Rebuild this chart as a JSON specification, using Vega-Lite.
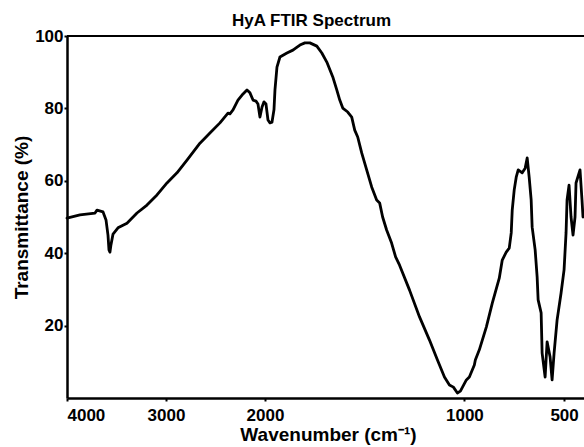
{
  "$schema": "https://vega.github.io/schema/vega-lite/v6.json",
  "width": 517,
  "height": 362,
  "autosize": {"type": "none"},
  "padding": {"left": 67, "top": 36, "right": 0, "bottom": 49},
  "background": "white",
  "title": {"text": "HyA FTIR Spectrum", "fontSize": 17, "fontWeight": "bold", "font": "Liberation Sans", "color": "black", "anchor": "middle", "dx": -14, "offset": -3},
  "config": {
    "view": {"stroke": null},
    "axis": {"grid": false, "domainColor": "black", "domainWidth": 2.5, "tickColor": "black", "tickWidth": 2, "tickSize": 3, "labelFont": "Liberation Sans", "labelFontSize": 17, "labelFontWeight": "bold", "labelColor": "black", "titleFont": "Liberation Sans", "titleFontSize": 19, "titleFontWeight": "bold", "titleColor": "black"}
  },
  "data": {"values": [
    {"wn": 4000, "T": 49.7}, {"wn": 3869, "T": 50.6}, {"wn": 3717, "T": 51.1}, {"wn": 3697, "T": 51.9}, {"wn": 3636, "T": 51.4},
    {"wn": 3606, "T": 49.2}, {"wn": 3586, "T": 45.0}, {"wn": 3576, "T": 40.9}, {"wn": 3566, "T": 40.3}, {"wn": 3556, "T": 42.3},
    {"wn": 3535, "T": 45.3}, {"wn": 3485, "T": 47.0}, {"wn": 3394, "T": 48.3}, {"wn": 3293, "T": 51.1}, {"wn": 3192, "T": 53.3},
    {"wn": 3091, "T": 56.1}, {"wn": 2990, "T": 59.4}, {"wn": 2889, "T": 62.2}, {"wn": 2788, "T": 65.7}, {"wn": 2657, "T": 70.4},
    {"wn": 2556, "T": 73.2}, {"wn": 2455, "T": 76.0}, {"wn": 2374, "T": 78.7}, {"wn": 2354, "T": 78.5}, {"wn": 2323, "T": 79.6},
    {"wn": 2273, "T": 82.3}, {"wn": 2232, "T": 83.7}, {"wn": 2182, "T": 85.1}, {"wn": 2152, "T": 84.3}, {"wn": 2121, "T": 82.3},
    {"wn": 2091, "T": 82.0}, {"wn": 2071, "T": 81.2}, {"wn": 2051, "T": 77.6}, {"wn": 2030, "T": 80.4}, {"wn": 2010, "T": 81.8},
    {"wn": 1995, "T": 81.2}, {"wn": 1985, "T": 76.8}, {"wn": 1975, "T": 76.0}, {"wn": 1965, "T": 76.2}, {"wn": 1955, "T": 79.6},
    {"wn": 1950, "T": 85.1}, {"wn": 1940, "T": 91.4}, {"wn": 1925, "T": 94.2}, {"wn": 1890, "T": 95.3}, {"wn": 1860, "T": 96.1},
    {"wn": 1825, "T": 97.5}, {"wn": 1800, "T": 98.1}, {"wn": 1775, "T": 98.1}, {"wn": 1740, "T": 97.2}, {"wn": 1715, "T": 95.3},
    {"wn": 1690, "T": 92.8}, {"wn": 1660, "T": 88.7}, {"wn": 1640, "T": 85.1}, {"wn": 1625, "T": 82.3}, {"wn": 1610, "T": 80.1},
    {"wn": 1585, "T": 79.0}, {"wn": 1565, "T": 77.6}, {"wn": 1550, "T": 74.0}, {"wn": 1535, "T": 72.1}, {"wn": 1515, "T": 67.7},
    {"wn": 1490, "T": 63.0}, {"wn": 1465, "T": 58.3}, {"wn": 1440, "T": 54.7}, {"wn": 1425, "T": 53.9}, {"wn": 1410, "T": 50.0},
    {"wn": 1390, "T": 46.4}, {"wn": 1365, "T": 42.8}, {"wn": 1345, "T": 39.0}, {"wn": 1325, "T": 36.7}, {"wn": 1275, "T": 29.8},
    {"wn": 1225, "T": 22.4}, {"wn": 1175, "T": 16.0}, {"wn": 1135, "T": 10.5}, {"wn": 1100, "T": 5.8}, {"wn": 1075, "T": 3.6},
    {"wn": 1055, "T": 3.0}, {"wn": 1035, "T": 1.4}, {"wn": 1020, "T": 1.9}, {"wn": 990, "T": 5.0}, {"wn": 975, "T": 5.8},
    {"wn": 950, "T": 9.1}, {"wn": 945, "T": 10.5}, {"wn": 925, "T": 13.3}, {"wn": 890, "T": 19.6}, {"wn": 860, "T": 26.2},
    {"wn": 825, "T": 33.1}, {"wn": 810, "T": 38.1}, {"wn": 790, "T": 40.3}, {"wn": 775, "T": 41.4}, {"wn": 765, "T": 45.6},
    {"wn": 760, "T": 51.9}, {"wn": 750, "T": 57.5}, {"wn": 740, "T": 61.0}, {"wn": 730, "T": 63.0}, {"wn": 710, "T": 62.2},
    {"wn": 695, "T": 63.5}, {"wn": 685, "T": 66.3}, {"wn": 675, "T": 61.0}, {"wn": 665, "T": 54.7}, {"wn": 660, "T": 47.2},
    {"wn": 645, "T": 40.9}, {"wn": 635, "T": 33.4}, {"wn": 630, "T": 27.1}, {"wn": 615, "T": 23.5}, {"wn": 610, "T": 12.4},
    {"wn": 595, "T": 5.8}, {"wn": 585, "T": 15.5}, {"wn": 570, "T": 11.3}, {"wn": 560, "T": 5.0}, {"wn": 550, "T": 12.4},
    {"wn": 535, "T": 21.5}, {"wn": 515, "T": 29.0}, {"wn": 500, "T": 35.4}, {"wn": 490, "T": 45.6}, {"wn": 485, "T": 54.7},
    {"wn": 475, "T": 58.8}, {"wn": 465, "T": 50.0}, {"wn": 455, "T": 45.0}, {"wn": 445, "T": 50.0}, {"wn": 440, "T": 59.4},
    {"wn": 420, "T": 63.0}, {"wn": 410, "T": 54.7}, {"wn": 405, "T": 50.0}
  ]},
  "layer": [
    {
      "mark": {"type": "line", "color": "black", "strokeWidth": 2.8, "strokeJoin": "round", "strokeCap": "round"},
      "encoding": {
        "x": {"field": "wn", "type": "quantitative",
              "scale": {"domain": [4000, 2000, 400], "range": [0, 198, 517], "zero": false, "nice": false},
              "axis": {"values": [4000, 3000, 2000, 1000, 500], "format": "d", "labelPadding": 6, "title": "Wavenumber (cm⁻¹)", "titleX": 261, "titleY": 36, "titleBaseline": "middle", "titleAlign": "center"}},
        "y": {"field": "T", "type": "quantitative",
              "scale": {"domain": [0, 100], "zero": true, "nice": false},
              "axis": {"values": [20, 40, 60, 80, 100], "labelPadding": 1, "title": "Transmittance (%)", "titleX": -46, "titleY": 181, "titleBaseline": "middle", "titleAlign": "center", "titleAngle": -90}}
      }
    },
    {
      "mark": {"type": "rule", "color": "black", "strokeWidth": 2},
      "encoding": {"y": {"datum": 100}}
    }
  ]
}
